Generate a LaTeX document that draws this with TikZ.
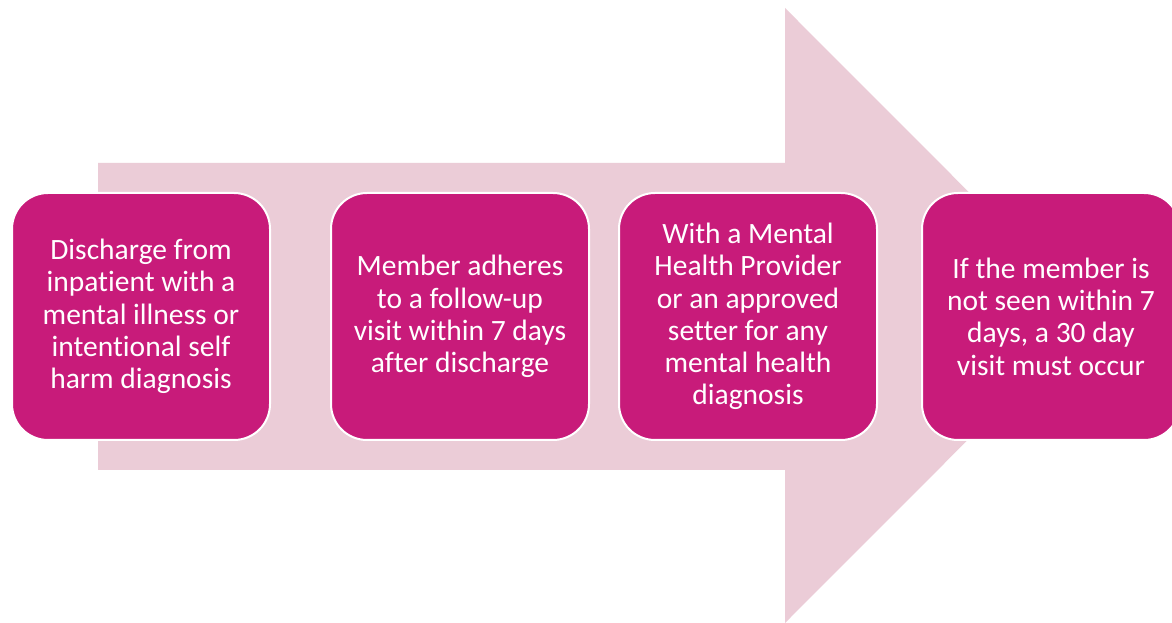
\documentclass[tikz,border=0pt]{standalone}
\usepackage{fontspec}
\setmainfont{Carlito}[Ligatures=NoCommon]
\definecolor{arrowpink}{HTML}{EBCCD7}
\definecolor{boxmag}{HTML}{C81B7A}
\tikzset{
  stepbox/.style={rectangle, rounded corners=36pt, fill=boxmag, draw=white, line width=2pt,
    minimum width=258pt, minimum height=247pt, text=white, align=center,
    font=\fontsize{29.5pt}{32.3pt}\selectfont, inner sep=0pt}
}
\begin{document}
\begin{tikzpicture}[x=1pt,y=1pt]
\useasboundingbox (0,0) rectangle (1172,623);
\clip (0,0) rectangle (1172,623);
\fill[white] (0,0) rectangle (1172,623);
% big arrow (y measured downward from the top, flipped)
\fill[arrowpink] (98,623-163) -- (785,623-163) -- (785,623-8) -- (1092,623-315.5)
  -- (785,0) -- (785,623-470) -- (98,623-470) -- cycle;
\node[stepbox] (b1) at (141,623-316.5) {Discharge from\\inpatient with a\\mental illness or\\intentional self\\harm diagnosis};
\node[stepbox] (b2) at (460,623-316.5) {Member adheres\\to a follow-up\\visit within 7 days\\after discharge};
\node[stepbox] (b3) at (748,623-316.5) {With a Mental\\Health Provider\\or an approved\\setter for any\\mental health\\diagnosis};
\node[stepbox] (b4) at (1051,623-316.5) {If the member is\\not seen within 7\\days, a 30 day\\visit must occur};
\end{tikzpicture}
\end{document}
